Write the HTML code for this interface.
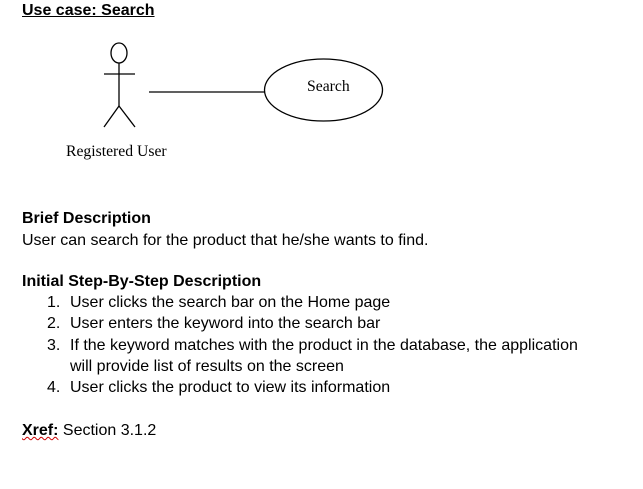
<!DOCTYPE html>
<html><head><meta charset="utf-8"><style>
body{margin:0;width:643px;height:489px;background:#fff;position:relative;overflow:hidden;font-family:"Liberation Sans",Arial,sans-serif;color:#000}
.t{position:absolute;white-space:nowrap;font-size:16px;line-height:16px}
.b{font-weight:bold}
.s{font-family:"Liberation Serif",serif;font-size:15.7px}
</style></head><body>
<div class="t b" style="left:22px;top:3px;font-size:16px;text-decoration:underline">Use case: Search</div>
<svg width="643" height="489" style="position:absolute;left:0;top:0">
<g stroke="#000" stroke-width="1.3" fill="none">
<ellipse cx="119" cy="53" rx="8" ry="10"/>
<line x1="104" y1="74" x2="135" y2="74"/>
<line x1="119" y1="63" x2="119" y2="106"/>
<line x1="119" y1="106" x2="104" y2="127"/>
<line x1="119" y1="106" x2="135" y2="127"/>
<line x1="149" y1="92" x2="265" y2="92"/>
<ellipse cx="323.5" cy="90" rx="59" ry="31"/>
</g>
</svg>
<div class="t s" style="left:307px;top:79px">Search</div>
<div class="t s" style="left:66px;top:144px">Registered User</div>
<div class="t b" style="left:22px;top:211px">Brief Description</div>
<div class="t" style="left:22px;top:233px">User can search for the product that he/she wants to find.</div>
<div class="t b" style="left:22px;top:274px">Initial Step-By-Step Description</div>
<div class="t" style="left:47px;top:295px">1.</div><div class="t" style="left:70px;top:295px">User clicks the search bar on the Home page</div>
<div class="t" style="left:47px;top:316px">2.</div><div class="t" style="left:70px;top:316px">User enters the keyword into the search bar</div>
<div class="t" style="left:47px;top:338px">3.</div><div class="t" style="left:70px;top:338px">If the keyword matches with the product in the database, the application</div>
<div class="t" style="left:70px;top:359px">will provide list of results on the screen</div>
<div class="t" style="left:47px;top:380px">4.</div><div class="t" style="left:70px;top:380px">User clicks the product to view its information</div>
<div class="t" style="left:22px;top:423px"><b style="text-decoration:underline wavy #c00;text-decoration-thickness:1px">Xref:</b> Section 3.1.2</div>
</body></html>
